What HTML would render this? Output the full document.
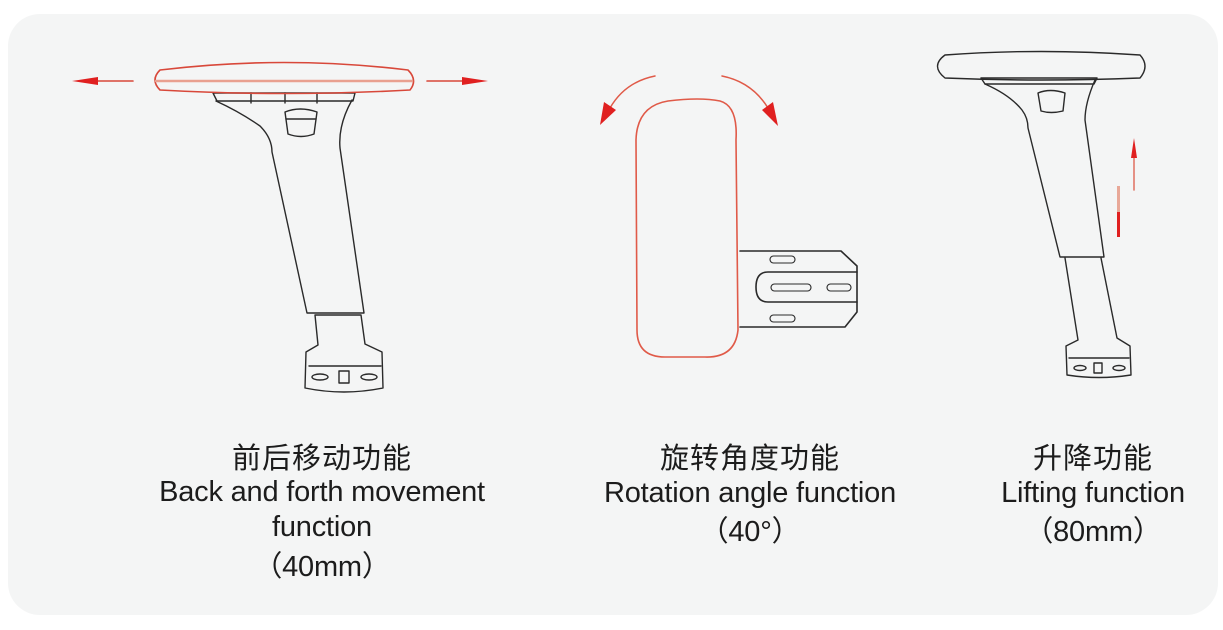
<!DOCTYPE html>
<html><head><meta charset="utf-8"><style>
html,body{margin:0;padding:0;background:#fff;width:1223px;height:630px;overflow:hidden}
.p{position:absolute;left:8px;top:14px;width:1210px;height:601px;background:#f4f5f5;border-radius:32px}
.t{position:absolute;text-align:center;color:#1c1c1c;font-family:"Liberation Sans","Noto Sans CJK SC",sans-serif;white-space:nowrap}
.zh{font-size:29px;letter-spacing:1px}
.en{font-size:29px;letter-spacing:-0.2px;line-height:34px}
</style></head><body>
<div class="p"></div>
<svg width="1223" height="630" style="position:absolute;left:0;top:0" fill="none" stroke-linejoin="round" stroke-linecap="round">
<!-- LEFT -->
<g stroke="#2a2a2a" stroke-width="1.4">
<path d="M213 93 L355 93 L353 101 L217 101 Z"/>
<line x1="251" y1="93" x2="251" y2="103"/><line x1="285" y1="93" x2="285" y2="103"/><line x1="317" y1="93" x2="317" y2="103"/>
<path d="M216 101 Q240 112 260 126 Q272 138 272 152 L307 313 L364 313 L340 148 Q338 125 352 100"/>
<path d="M285 112 Q300 106 317 112 L314 134 Q301 139 288 134 Z"/>
<line x1="286" y1="119" x2="316" y2="119"/>
<path d="M315 315 L318 345 L306 352 L305 388 Q344 396 383 388 L382 352 L365 344 L361 315 Z"/>
<line x1="309" y1="366" x2="381" y2="366"/>
<ellipse cx="320" cy="377" rx="8" ry="3"/><ellipse cx="369" cy="377" rx="8" ry="3"/>
<rect x="339" y="371" width="10" height="12"/>
</g>
<g stroke="#d8483a" stroke-width="1.6">
<path d="M160 70 Q284 55 408 70 Q418 80 410 90 Q284 97 160 90 Q150 80 160 70 Z"/>
<line x1="156" y1="81" x2="412" y2="81" stroke="#e9a090" stroke-width="2.5"/>
<line x1="133" y1="81" x2="85" y2="81"/><line x1="427" y1="81" x2="475" y2="81"/>
</g>
<path d="M72 81 L98 77 L98 85 Z" fill="#e02020"/><path d="M488 81 L462 77 L462 85 Z" fill="#e02020"/>
<!-- MIDDLE -->
<g stroke="#2a2a2a" stroke-width="1.6">
<path d="M740 251 L841 251 L857 266 L857 312 L845 327 L740 327"/>
<path d="M857 272 L768 272 Q756 272 756 287 Q756 302 768 302 L857 302"/>
<rect x="770" y="256" width="25" height="7" rx="3.5" stroke-width="1.1"/>
<rect x="770" y="315" width="25" height="7" rx="3.5" stroke-width="1.1"/>
<rect x="771" y="284" width="40" height="7" rx="3.5" stroke-width="1.1"/>
<rect x="827" y="284" width="24" height="7" rx="3.5" stroke-width="1.1"/>
</g>
<path d="M668 101 Q700 97 720 101 Q738 106 736 140 L738 330 Q735 358 705 357 L665 357 Q637 357 637 330 L636 140 Q637 106 668 101 Z" stroke="#e05a48" stroke-width="1.6" fill="#f4f5f5"/>
<path d="M655 76 Q625 82 610 108" stroke="#e05a48" stroke-width="1.5"/>
<path d="M722 76 Q752 82 768 108" stroke="#e05a48" stroke-width="1.5"/>
<path d="M600 125 L604 102 L616 110 Z" fill="#e02020"/><path d="M778 126 L762 110 L773 102 Z" fill="#e02020"/>
<!-- RIGHT -->
<g stroke="#2a2a2a" stroke-width="1.4">
<path d="M945 55 Q1040 48 1140 55 Q1150 66 1140 78 Q1040 82 945 78 Q930 66 945 55 Z" fill="#f4f5f5"/>
<path d="M981 78 L1097 78 L1094 84 L985 84 Z"/>
<path d="M985 84 Q1010 95 1022 110 Q1028 118 1028 128 L1060 257 L1104 257 L1085 120 Q1085 103 1095 80"/>
<path d="M1038 93 Q1050 88 1065 93 L1063 111 Q1051 114 1041 111 Z"/>
<path d="M1065 258 L1078 340 L1066 346 L1067 375 Q1099 380 1131 375 L1130 346 L1117 338 L1101 258"/>
<line x1="1069" y1="358" x2="1129" y2="358"/>
<ellipse cx="1080" cy="368" rx="6" ry="2.5"/><ellipse cx="1119" cy="368" rx="6" ry="2.5"/>
<rect x="1094" y="363" width="8" height="10"/>
</g>
<line x1="1134" y1="150" x2="1134" y2="190" stroke="#e07060" stroke-width="1.5"/>
<path d="M1134 138 L1131 158 L1137 158 Z" fill="#e02020"/>
<rect x="1117" y="186" width="3" height="26" fill="#e8a898"/><rect x="1117" y="212" width="3" height="25" fill="#e02020"/>
</svg>
<div class="t zh" style="left:222px;top:435px;width:200px">前后移动功能</div>
<div class="t en" style="left:122px;top:475px;width:400px">Back and forth movement</div>
<div class="t en" style="left:122px;top:510px;width:400px">function</div>
<div class="t en" style="left:122px;top:550px;width:400px">（40mm）</div>
<div class="t zh" style="left:650px;top:435px;width:200px">旋转角度功能</div>
<div class="t en" style="left:550px;top:476px;width:400px">Rotation angle function</div>
<div class="t en" style="left:550px;top:515px;width:400px">（40°）</div>
<div class="t zh" style="left:993px;top:435px;width:200px">升降功能</div>
<div class="t en" style="left:943px;top:476px;width:300px">Lifting function</div>
<div class="t en" style="left:943px;top:515px;width:300px">（80mm）</div>
</body></html>
